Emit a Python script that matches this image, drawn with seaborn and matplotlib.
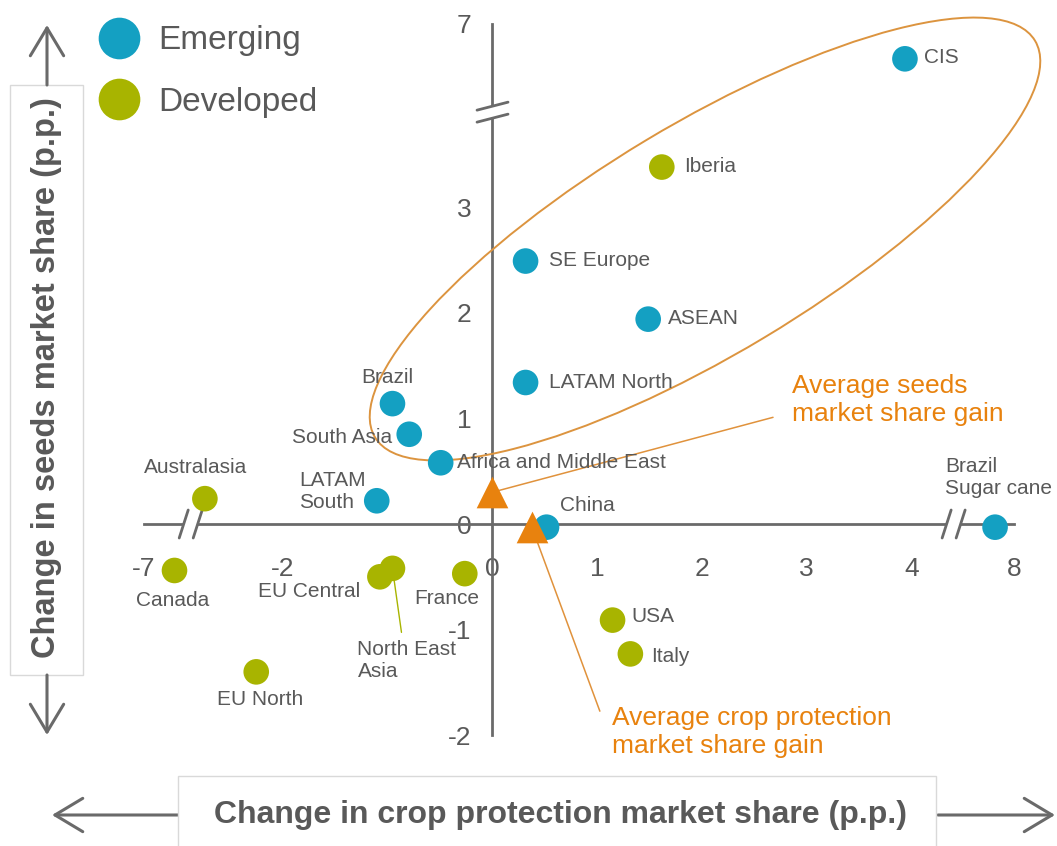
import numpy as np
import pandas as pd
import matplotlib
matplotlib.use("Agg")
import matplotlib.pyplot as plt
import seaborn as sns
from matplotlib.patches import Ellipse, Rectangle, Polygon, FancyArrowPatch, ArrowStyle
from matplotlib.transforms import IdentityTransform
from matplotlib.lines import Line2D

# ---------------- data ----------------
emerging_names = ["CIS", "SE Europe", "ASEAN", "LATAM North", "Brazil", "South Asia",
                  "Africa and Middle East", "LATAM\nSouth", "China", "Brazil\nSugar cane"]
emerging_cp = [3.94, 0.32, 1.49, 0.32, -0.95, -0.79, -0.49, -1.10, 0.52, 7.82]
emerging_seeds = [6.67, 2.49, 1.94, 1.34, 1.14, 0.85, 0.58, 0.22, -0.03, -0.03]

developed_names = ["Iberia", "Australasia", "Canada", "EU Central", "North East\nAsia",
                   "France", "EU North", "USA", "Italy"]
developed_cp = [1.62, -2.74, -6.71, -1.07, -0.95, -0.26, -2.25, 1.15, 1.32]
developed_seeds = [3.38, 0.24, -0.44, -0.50, -0.42, -0.47, -1.40, -0.91, -1.23]

avg_cp_gain = 0.38
avg_seeds_gain = 0.30

x_ticks = [-7, -2, -1, 0, 1, 2, 3, 4, 8]
y_ticks = [-2, -1, 0, 1, 2, 3, 7]

# label offsets in pixels (dx, dy up) and alignment -- layout only
emerging_offsets = [(19, 1, "left"), (23, 1, "left"), (20, 1, "left"), (23, 0, "left"),
                    (-5, 26, "center"), (-17, -3, "right"), (16, 0, "left"),
                    (-78, 9, "left"), (13, 22, "left"), (-50, 50, "left")]
developed_offsets = [(22, 1, "left"), (-9, 31, "center"), (-2, -30, "center"),
                     (-20, -15, "right"), (-35, -92, "left"), (-18, -25, "center"),
                     (4, -28, "center"), (19, 4, "left"), (21, -3, "left")]

# ---------------- style ----------------
TEAL = "#14A0C2"
OLIVE = "#A8B400"
ORANGE = "#E8820E"
LINE_OR = "#E0923C"
GRAY = "#6A6A6A"
TXT = "#595959"
H = 846

sns.set_theme(style="white")
plt.rcParams["font.family"] = ["Liberation Sans", "DejaVu Sans"]

# broken-axis scales (x: gap between -7 and -2, 4 and 8; y: gap between 3 and 7)
XK = [-40.0, -6.561, -2.88, 4.40, 7.421, 40.0]
UK = [-36.32, -2.881, -2.88, 4.40, 4.401, 36.98]
YK = [-40.0, 3.90, 6.166, 40.0]
VK = [-40.0, 3.90, 3.901, 37.735]


def fx(x):
    return np.interp(x, XK, UK)


def ix(u):
    return np.interp(u, UK, XK)


def fy(y):
    return np.interp(y, YK, VK)


def iy(v):
    return np.interp(v, VK, YK)


fig = plt.figure(figsize=(10.57, 8.46), dpi=100)
ax = fig.add_axes([0, 0, 1, 1])
ax.set_xscale("function", functions=(fx, ix))
ax.set_yscale("function", functions=(fy, iy))
ax.set_xlim(-8.375, 8.411)
ax.set_ylim(-3.049, 7.227)
ax.patch.set_alpha(0)

df = pd.DataFrame({
    "cp": emerging_cp + developed_cp,
    "seeds": emerging_seeds + developed_seeds,
    "group": ["Emerging"] * len(emerging_cp) + ["Developed"] * len(developed_cp),
})
sns.scatterplot(data=df, x="cp", y="seeds", hue="group",
                palette={"Emerging": TEAL, "Developed": OLIVE},
                s=340, linewidth=0, legend=False, ax=ax, zorder=4)
sns.scatterplot(x=[0.0, avg_cp_gain], y=[avg_seeds_gain, -0.03], marker="^",
                s=520, color=ORANGE, linewidth=0, legend=False, ax=ax, zorder=6)

# axes through origin
for s in ["top", "right"]:
    ax.spines[s].set_visible(False)
ax.spines["bottom"].set_position(("data", 0))
ax.spines["left"].set_position(("data", 0))
ax.spines["bottom"].set_bounds(-7, 8)
ax.spines["left"].set_bounds(-2, 7)
for s in ["bottom", "left"]:
    ax.spines[s].set_color(GRAY)
    ax.spines[s].set_linewidth(2.0)
    ax.spines[s].set_zorder(2.5)
ax.set_xticks(x_ticks, [str(t) for t in x_ticks])
ax.set_yticks(y_ticks, [str(t) for t in y_ticks])
ax.tick_params(axis="x", direction="in", length=6, width=2, color=GRAY,
               labelsize=19, labelcolor=TXT, pad=24)
ax.tick_params(axis="y", direction="out", length=6, width=2, color=GRAY,
               labelsize=19, labelcolor=TXT, pad=9)
ax.set_xlabel("")
ax.set_ylabel("")

ident = IdentityTransform()

# break marks
def xbreak(xv):
    cx, cy = ax.transData.transform((xv, 0))
    a0, a1 = (cx - 11, cy - 14), (cx - 2, cy + 14)
    b0, b1 = (cx + 3, cy - 14), (cx + 12, cy + 14)
    ax.add_patch(Polygon([a0, a1, b1, b0], closed=True, facecolor="white",
                         edgecolor="none", transform=ident, zorder=3))
    for p, q in [(a0, a1), (b0, b1)]:
        ax.add_line(Line2D([p[0], q[0]], [p[1], q[1]], color=GRAY, lw=2.0,
                           transform=ident, zorder=3.1))


def ybreak(yv):
    cx, cy = ax.transData.transform((0, yv))
    a0, a1 = (cx - 15, cy + 2), (cx + 16, cy + 10)
    b0, b1 = (cx - 15, cy - 10), (cx + 16, cy - 2)
    ax.add_patch(Polygon([a0, a1, b1, b0], closed=True, facecolor="white",
                         edgecolor="none", transform=ident, zorder=3))
    for p, q in [(a0, a1), (b0, b1)]:
        ax.add_line(Line2D([p[0], q[0]], [p[1], q[1]], color=GRAY, lw=2.0,
                           transform=ident, zorder=3.1))


xbreak(-2.88)
xbreak(4.40)
ybreak(3.90)

# point labels
for names, xs, ys, offs in [(emerging_names, emerging_cp, emerging_seeds, emerging_offsets),
                            (developed_names, developed_cp, developed_seeds, developed_offsets)]:
    for n, xv, yv, (dx, dy, ha) in zip(names, xs, ys, offs):
        ax.annotate(n, xy=(xv, yv), xytext=(dx, dy), textcoords="offset pixels",
                    ha=ha, va="center", fontsize=15, color=TXT, zorder=7,
                    multialignment="left")

# North East Asia leader line
nea = developed_names.index("North East\nAsia")
ax.annotate("", xy=(developed_cp[nea], developed_seeds[nea]), xytext=(9, -64),
            textcoords="offset pixels",
            arrowprops=dict(arrowstyle="-", color=OLIVE, lw=1.0, shrinkA=0, shrinkB=6))

# average gain annotations
ax.annotate("", xy=(0.0, avg_seeds_gain), xytext=(281, 75), textcoords="offset pixels",
            arrowprops=dict(arrowstyle="-", color=LINE_OR, lw=1.1, shrinkA=0, shrinkB=0),
            zorder=5)
ax.annotate("Average seeds\nmarket share gain", xy=(0.0, avg_seeds_gain), xytext=(300, 92),
            textcoords="offset pixels", ha="left", va="center", fontsize=19, color=ORANGE)
ax.annotate("", xy=(avg_cp_gain, -0.03), xytext=(68, -184), textcoords="offset pixels",
            arrowprops=dict(arrowstyle="-", color=LINE_OR, lw=1.1, shrinkA=0, shrinkB=0),
            zorder=5)
ax.annotate("Average crop protection\nmarket share gain", xy=(avg_cp_gain, -0.03),
            xytext=(80, -205), textcoords="offset pixels", ha="left", va="center",
            fontsize=19, color=ORANGE)

# highlight ellipse
ax.add_patch(Ellipse((705, H - 239), width=770, height=230, angle=31, fill=False,
                     edgecolor="#DC943F", lw=1.4, transform=ident, zorder=3.5))

# legend
handles = [Line2D([], [], marker="o", ls="", markersize=30, markeredgewidth=0, color=TEAL),
           Line2D([], [], marker="o", ls="", markersize=30, markeredgewidth=0, color=OLIVE)]
leg = ax.legend(handles, ["Emerging", "Developed"], loc="upper left",
                bbox_to_anchor=(102.3 / 1057, 1 - 25.4 / H), bbox_transform=fig.transFigure,
                frameon=False, fontsize=24, handlelength=1.0, handletextpad=0.67,
                labelspacing=0.92, borderpad=0, borderaxespad=0)
for t in leg.get_texts():
    t.set_color(TXT)

# y-axis title box with arrows
fig.add_artist(Rectangle((10, H - 675), 73, 590, facecolor="white", edgecolor="#D9D9D9",
                         lw=1, transform=ident))
fig.text(47 / 1057, 1 - 378 / H, "Change in seeds market share (p.p.)", rotation=90,
         ha="center", va="center", fontsize=23.5, fontweight="bold", color=TXT)
astyle = ArrowStyle("->", head_length=0.5, head_width=0.3)
for p, q in [((47, H - 85), (47, H - 25)), ((47, H - 675), (47, H - 735)),
             ((178, H - 815), (52, H - 815)), ((938, H - 815), (1055, H - 815))]:
    fig.add_artist(FancyArrowPatch(p, q, arrowstyle=astyle, mutation_scale=40,
                                   color=GRAY, lw=2.2, transform=ident,
                                   shrinkA=0, shrinkB=0))

# x-axis title box
fig.add_artist(Rectangle((178, -5), 758, H - 776 + 5, facecolor="white",
                         edgecolor="#D9D9D9", lw=1, transform=ident))
fig.text(561 / 1057, 1 - 815 / H, "Change in crop protection market share (p.p.)",
         ha="center", va="center", fontsize=23, fontweight="bold", color=TXT)

fig.savefig("out.png", dpi=100)
